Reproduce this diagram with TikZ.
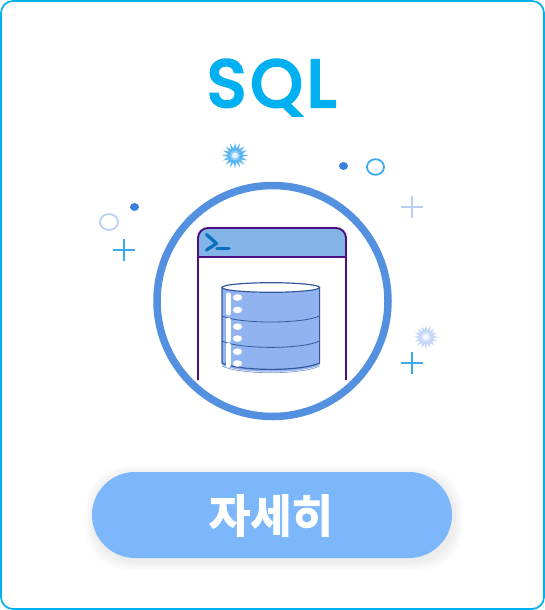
\documentclass[tikz,border=0pt]{standalone}
\usepackage{fontspec}
\setmainfont{Poppins}
\newfontfamily\titlefont{Poppins}[RawFeature={embolden=4.8},LetterSpace=7]
\newfontfamily\krfont{Noto Sans CJK KR Bold}[RawFeature={embolden=2}]
\definecolor{frameblue}{HTML}{00B0F0}
\definecolor{ringblue}{HTML}{5490E0}
\definecolor{headblue}{HTML}{82B4E6}
\definecolor{winpurple}{HTML}{4B0F82}
\definecolor{promptblue}{HTML}{0870C0}
\definecolor{dbfill}{HTML}{91B4F0}
\definecolor{dbedge}{HTML}{35599C}
\definecolor{dotblue}{HTML}{3C82DC}
\definecolor{paleblue}{HTML}{B9D0F5}
\definecolor{skyblue}{HTML}{3CA9F0}
\definecolor{btnblue}{HTML}{7CB7FC}
\tikzset{
  winline/.style={draw=winpurple,line width=1.9pt},
  dbline/.style={draw=dbedge,line width=1.2pt},
  plusmark/.style={line width=1.8pt}
}
\begin{document}
\begin{tikzpicture}[x=1pt,y=-1pt]
\useasboundingbox (0,0) rectangle (545,610);
\fill[white] (0,0) rectangle (545,610);
% frame
\draw[frameblue,line width=1.7pt,rounded corners=12pt] (1,1) rectangle (544,609);
% title
\node[text=frameblue,font=\titlefont\fontsize{66}{66}\selectfont] (title) at (271.5,87.5) {SQL};
% big ring
\draw[ringblue,line width=7.5pt] (272.5,301) circle[radius=115.5];
% window
\fill[headblue,rounded corners=10pt] (198,257) -- (198,228) -- (346,228) -- (346,257) -- cycle;
\fill[headblue] (198,250) rectangle (346,257);
\draw[winline,rounded corners=10pt] (198,380) -- (198,228) -- (346,228) -- (346,380);
\draw[winline] (198,257) -- (346,257);
% prompt
\draw[promptblue,line width=3.2pt,line cap=round,line join=round] (206.5,234.5) -- (216.5,243.5) -- (206.5,250);
\draw[promptblue,line width=3.2pt,line cap=round] (217,248.7) -- (229,248.7);
% cylinder
\fill[dbfill] (222,287.5) -- (222,365) .. controls (240,374) and (302,374) .. (319.6,365) -- (319.6,287.5) -- cycle;
\draw[dbline,draw opacity=.6,line width=.7pt] (222,366) .. controls (240,375) and (302,375) .. (319.6,366);
\draw[dbline] (222,287.5) -- (222,363) .. controls (240,371.5) and (302,371.5) .. (319.6,363) -- (319.6,287.5);
\draw[dbline,line width=.8pt] (222,316) .. controls (240,324) and (302,324) .. (319.6,316);
\draw[dbline,line width=.8pt] (222,341) .. controls (240,349.5) and (302,349.5) .. (319.6,341);
\draw[dbline,fill=white] (270.8,287.5) ellipse[x radius=48.8,y radius=4.8];
% cylinder highlights
\foreach \ya/\yb in {295/313,320/340,345/365}
  \draw[white,line width=5pt,line cap=round] (228,\ya) -- (228,\yb);
\foreach \yy in {297.5,310,326.7,338.5,351.7,363.5}
  \fill[white] (237.5,\yy) ellipse[x radius=4.6,y radius=3.3];
% dots and rings
\fill[dotblue] (134.5,207) ellipse[x radius=4.5,y radius=4];
\fill[dotblue] (343.5,166) ellipse[x radius=4.5,y radius=4];
\draw[paleblue,line width=1.8pt] (109,222) ellipse[x radius=9,y radius=8];
\draw[skyblue,line width=1.8pt] (375.5,167) ellipse[x radius=8.5,y radius=7.8];
% plus marks
\foreach \cx/\cy/\cc in {124/250/skyblue,412/207/paleblue,412/363/skyblue}{
  \draw[\cc,plusmark] (\cx-11,\cy) -- (\cx+11,\cy);
  \draw[\cc,plusmark] (\cx,\cy-11) -- (\cx,\cy+11);
}
% starbursts
\foreach \cx/\cy/\cc/\rr in {235/155.5/skyblue/13,426/337/paleblue/12}{
  \fill[\cc!85!white] (\cx+\rr,\cy)
    \foreach \k in {1,...,31}{
      -- ({\cx+(mod(\k,2)==0 ? \rr : 7)*cos(\k*360/32)},{\cy+(mod(\k,2)==0 ? \rr : 7)*sin(\k*360/32)})
    } -- cycle;
  \fill[white,opacity=.35] (\cx,\cy) circle[radius=5];
  \fill[white,opacity=.75] (\cx,\cy) circle[radius=3];
}
% button shadow
\foreach \g in {9,7.5,6,4.5,3,1.5}
  \fill[black,opacity=.012,rounded corners=43pt] (92-\g+2,472-\g+3) rectangle (452+\g+2,558+\g+3);
\fill[btnblue,rounded corners=43pt] (92,472) rectangle (452,558);
\node[text=white,font=\krfont\fontsize{45}{45}\selectfont] (more) at (271,515.5) {자세히};
\end{tikzpicture}
\end{document}
